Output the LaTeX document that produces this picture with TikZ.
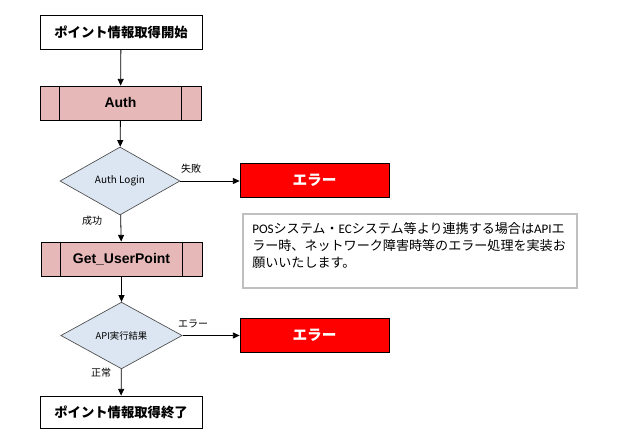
\documentclass[tikz,border=0pt]{standalone}
\usepackage{fontspec}
\setmainfont{Liberation Sans}
\newfontfamily\jp{Noto Sans CJK JP}
\newfontfamily\calib{Carlito}
\usetikzlibrary{shapes.geometric,arrows.meta}
\definecolor{procfill}{RGB}{230,184,183}
\definecolor{decfill}{RGB}{220,230,242}
\definecolor{notegray}{RGB}{191,191,191}
\tikzset{
  px/.style={x=0.75pt,y=-0.75pt},
  termbox/.style={draw=black,fill=white,line width=0.6pt,minimum width=121.5pt,minimum height=25.5pt,inner sep=0pt,font=\jp\bfseries\fontsize{10}{12}\selectfont},
  procbox/.style={draw=black,fill=procfill,line width=0.6pt,minimum width=120.75pt,minimum height=25.5pt,inner sep=0pt,font=\bfseries\fontsize{10.5}{12}\selectfont},
  decbox/.style={diamond,draw=black!70,fill=decfill,line width=0.5pt,minimum width=90pt,minimum height=51pt,inner sep=0pt,aspect=1.76,font=\jp\fontsize{7}{8}\selectfont},
  errbox/.style={draw=black,fill=red,line width=0.6pt,minimum width=111.75pt,minimum height=25.5pt,inner sep=0pt,text=white,font=\jp\bfseries\fontsize{11}{12}\selectfont},
  flow/.style={draw=black,line width=0.6pt,-{Triangle[length=5pt,width=4.5pt]}},
  lbl/.style={font=\jp\fontsize{7.5}{8}\selectfont,inner sep=0pt},
}
\begin{document}
\begin{tikzpicture}[px]
\useasboundingbox (0,0) rectangle (623,448);
\node[termbox] (start) at (121,32) {ポイント情報取得開始};
\node[procbox] (auth) at (120.5,103) {Auth};
\draw[line width=0.6pt] ([xshift=15pt]auth.north west) -- ([xshift=15pt]auth.south west)
  ([xshift=-15pt]auth.north east) -- ([xshift=-15pt]auth.south east);
\node[decbox,minimum width=90pt,minimum height=51pt] (d1) at (120,181) {\fontsize{7.5}{8}\selectfont Auth Login};
\node[errbox] (e1) at (314.5,180.5) {エラー};
\node[procbox] (gup) at (121.5,259) {Get\_UserPoint};
\draw[line width=0.6pt] ([xshift=15pt]gup.north west) -- ([xshift=15pt]gup.south west)
  ([xshift=-15pt]gup.north east) -- ([xshift=-15pt]gup.south east);
\node[decbox,minimum width=91pt,minimum height=50pt] (d2) at (121.5,335.5) {API実行結果};
\node[errbox] (e2) at (314.5,335) {エラー};
\node[termbox,minimum height=24pt] (end) at (121,412) {ポイント情報取得終了};
\node[draw=notegray,line width=0.8pt,minimum width=250.5pt,minimum height=55.5pt,inner sep=0pt] (note) at (410,251) {};
\node[anchor=north west,inner sep=0pt,align=left,font=\jp\fontsize{9.8}{12.8}\selectfont] (notetext) at (252,222)
  {{\calib POS}システム・{\calib EC}システム等より連携する場合は{\calib API}エ\\ラー時、ネットワーク障害時等のエラー処理を実装お\\願いいたします。};
\draw[flow] (start) -- (auth);
\draw[flow] (auth) -- (d1);
\draw[flow] (d1.east) -- (d1.east -| e1.west);
\draw[flow] (d1) -- (gup);
\draw[flow] (gup) -- (d2);
\draw[flow] (d2.east) -- (d2.east -| e2.west);
\draw[flow] (d2) -- (end);
\node[lbl] (l1) at (191,169) {失敗};
\node[lbl] (l2) at (92,221) {成功};
\node[lbl] (l3) at (193,324) {エラー};
\node[lbl] (l4) at (101,373) {正常};
\end{tikzpicture}
\end{document}
